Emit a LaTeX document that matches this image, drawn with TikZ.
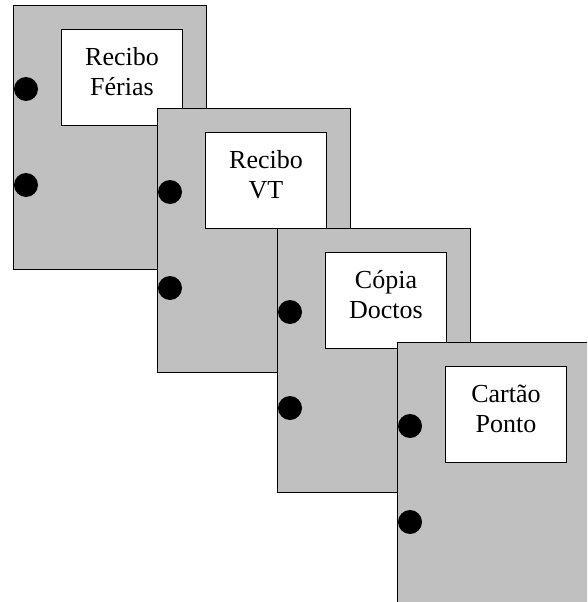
\documentclass[tikz,border=0pt]{standalone}
\usepackage{fontspec}
\setmainfont{Liberation Serif}
\definecolor{bgrey}{HTML}{C0C0C0}

\begin{document}
\begin{tikzpicture}[x=1pt,y=-1pt,
  binder/.style={draw=black,fill=bgrey,line width=1pt,anchor=north west,
                 minimum width=193pt,minimum height=264pt,inner sep=0pt},
  tag/.style={draw=black,fill=white,line width=1pt,anchor=north west,align=center,
              minimum width=121pt,minimum height=96pt,inner sep=0pt,text depth=12pt,
              font=\fontsize{26}{30}\selectfont},
  hole/.style={fill=black}]

  \useasboundingbox (0,0) rectangle (587,602);
  \clip (0,0) rectangle (587,602);

  % four binders, back to front
  \foreach \x/\y/\txt/\nm in {13/5/{Recibo\\Férias}/rf,
                              157/108/{Recibo\\VT}/rv,
                              277/228/{Cópia\\Doctos}/cd,
                              397/342/{Cartão\\Ponto}/cp}{
    \node[binder] (\nm) at (\x,\y) {};
    \node[tag] (\nm-tag) at ([shift={(48,24)}]\nm.north west) {\txt};
    \fill[hole] ([shift={(13,84)}]\nm.north west) circle (12pt);
    \fill[hole] ([shift={(13,180)}]\nm.north west) circle (12pt);
  }
\end{tikzpicture}
\end{document}
